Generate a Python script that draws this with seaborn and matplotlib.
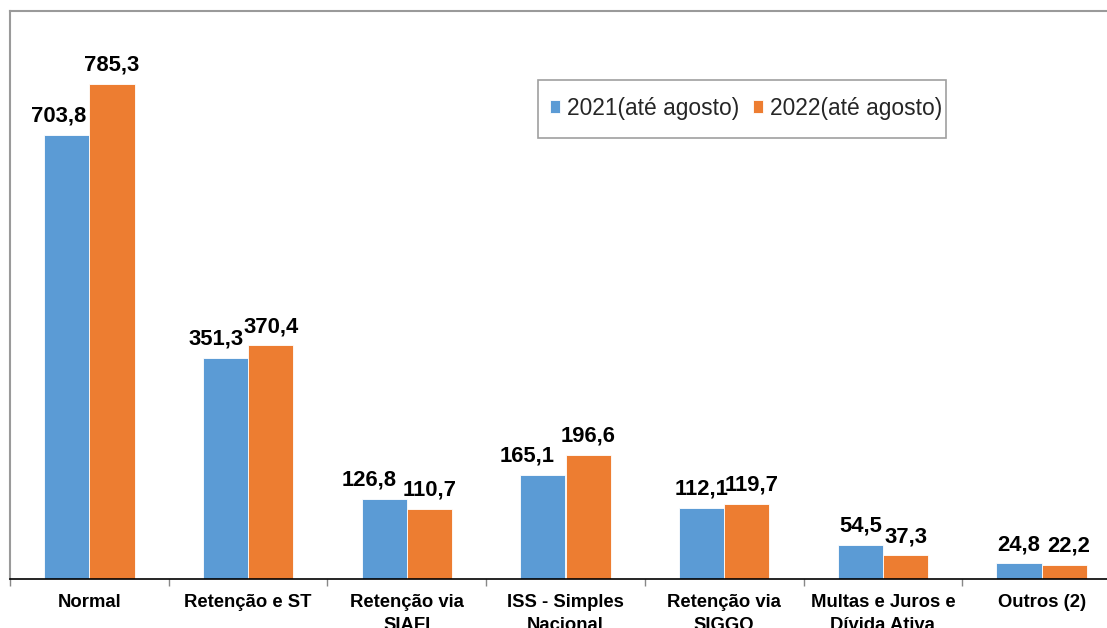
import matplotlib
matplotlib.use("Agg")
import matplotlib.pyplot as plt
import matplotlib.patches as mpatches
import seaborn as sns
import pandas as pd
import numpy as np

categories = ["Normal", "Retenção e ST", "Retenção via\nSIAFI", "ISS - Simples\nNacional",
              "Retenção via\nSIGGO", "Multas e Juros e\nDívida Ativa", "Outros (2)"]
series_names = ["2021(até agosto)", "2022(até agosto)"]
values_2021 = [703.8, 351.3, 126.8, 165.1, 112.1, 54.5, 24.8]
values_2022 = [785.3, 370.4, 110.7, 196.6, 119.7, 37.3, 22.2]
colors = ["#5B9BD5", "#ED7D31"]

# horizontal nudges (pixels) of value labels, as in the reference
label_shift = [[-8, -9, -15, -16, 0, 0, 0], [0, 0, 0, 0, 5, 0, 4]]

df = pd.DataFrame({
    "cat": categories * 2,
    "serie": [series_names[0]] * len(categories) + [series_names[1]] * len(categories),
    "val": values_2021 + values_2022,
})

sns.set_theme(style="white")
plt.rcParams["font.family"] = ["Liberation Sans", "DejaVu Sans"]

W, H = 1107, 628
fig = plt.figure(figsize=(W / 100, H / 100), dpi=100)
ax = fig.add_axes([10 / W, (H - 579) / H, 1111 / W, (579 - 11) / H])

sns.barplot(data=df, x="cat", y="val", hue="serie", palette=colors, width=0.57,
            gap=0, ax=ax, edgecolor="white", linewidth=0.6, saturation=1)

for k, cont in enumerate(ax.containers):
    labels = [f"{v:.1f}".replace(".", ",") for v in cont.datavalues]
    anns = ax.bar_label(cont, labels=labels, padding=6, fontsize=15.8, fontweight="bold", color="black")
    for ann, dx in zip(anns, label_shift[k]):
        ann.xyann = (dx * 0.72, 6)

ax.set_xlim(-0.5, len(categories) - 0.5)
ax.set_ylim(0, 901)
ax.set_xlabel("")
ax.set_ylabel("")
ax.set_yticks([])
ax.set_xticks(range(len(categories)))
ax.set_xticklabels(categories, fontsize=13.3, fontweight="bold", color="black", linespacing=1.45)
ax.set_xticks(np.arange(-0.5, len(categories), 1), minor=True)
ax.tick_params(axis="x", which="major", length=0, pad=11)
ax.tick_params(axis="x", which="minor", length=5, width=1, color="#888888", direction="out", bottom=True)

for s in ["top", "left", "right"]:
    ax.spines[s].set_color("#9a9a9a")
    ax.spines[s].set_linewidth(1.5)
ax.spines["bottom"].set_color("black")
ax.spines["bottom"].set_linewidth(1.2)

# legend: frame drawn separately to match the reference box
fig.patches.append(mpatches.Rectangle((538 / W, 1 - 138 / H), (946 - 538) / W, 58 / H,
                                      transform=fig.transFigure, fill=False,
                                      edgecolor="#a0a0a0", linewidth=1.2))
leg = ax.legend(loc="center left", bbox_to_anchor=(541 / W, 1 - 108 / H),
                bbox_transform=fig.transFigure,
                frameon=False, ncol=2, fontsize=16.4,
                handlelength=0.45, handleheight=0.45, handletextpad=0.3, columnspacing=0.6,
                borderpad=0.4, borderaxespad=0)
leg.set_title(None)

fig.savefig("out.png", dpi=100)
